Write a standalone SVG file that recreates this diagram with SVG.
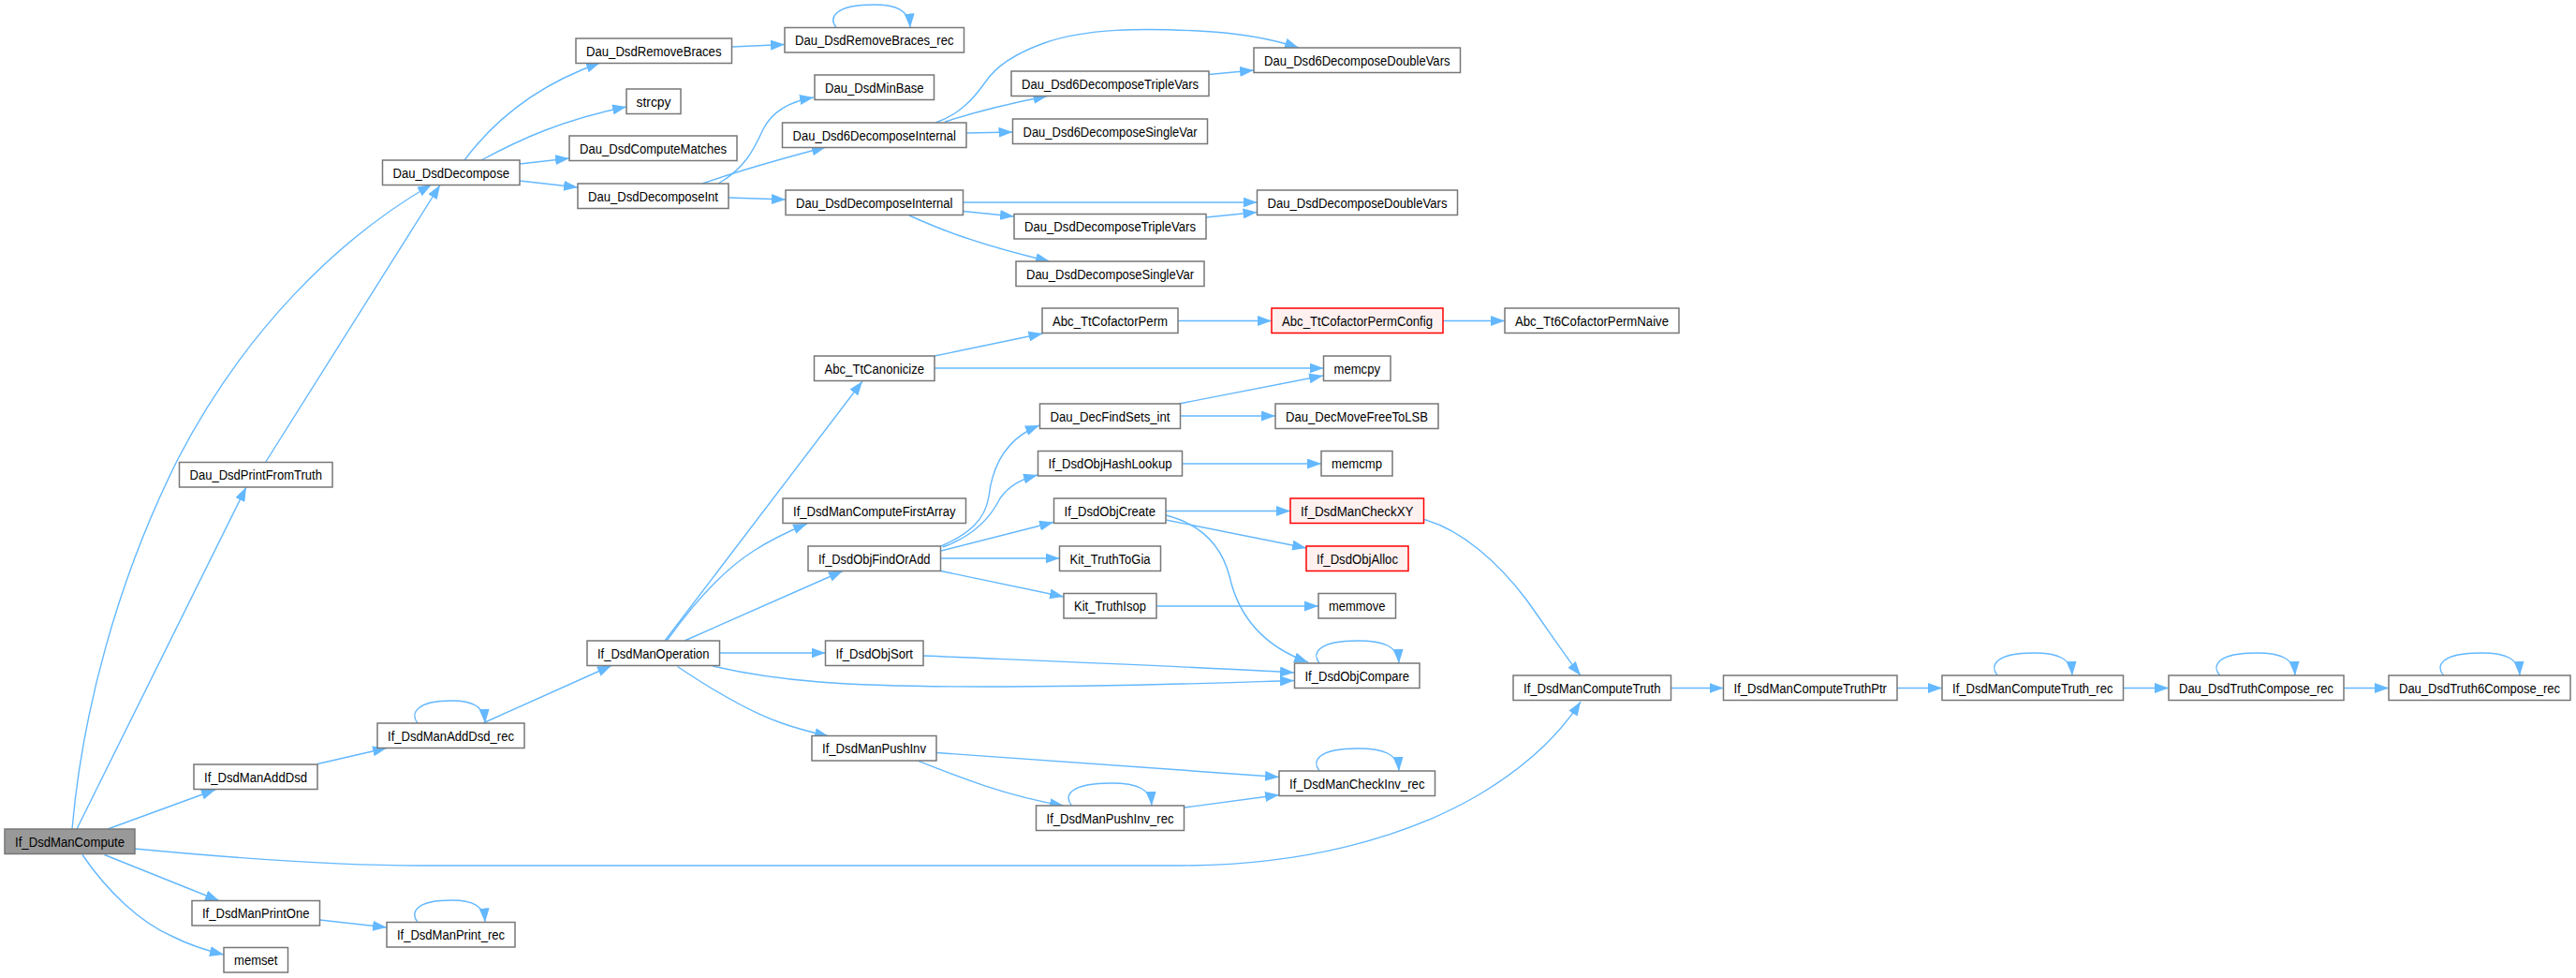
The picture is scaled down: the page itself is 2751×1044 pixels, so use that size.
<svg xmlns="http://www.w3.org/2000/svg" width="2751" height="1044" viewBox="0 0 2751 1044">
<style>
.node rect{fill:#ffffff;stroke:#777777;stroke-width:1.5}
.node.root rect{fill:#999999}
.node.red rect{fill:#fff0f0;stroke:#ff0000}
.node text{font-family:"Liberation Sans",Arial,sans-serif;font-size:14px;fill:#000000;text-anchor:middle}
.edges path{fill:none;stroke:#63b8ff;stroke-width:1.4;marker-end:url(#arr)}
</style>
<defs>
<marker id="arr" markerUnits="userSpaceOnUse" markerWidth="15" markerHeight="11" refX="15" refY="5.5" orient="auto">
<path d="M0,0 L15,5.5 L0,11 z" fill="#63b8ff"/>
</marker>
</defs>
<rect x="0" y="0" width="2751" height="1044" fill="#ffffff"/>
<g class="edges">
<path d="M77,885 C88,760 125,620 190,490 C260,355 360,255 461,197"/>
<path d="M82,885 L263,520"/>
<path d="M283.5,493.5 L470,197.5"/>
<path d="M496,171 C525,132 570,92 641,67"/>
<path d="M514,171 C555,149 600,128 669,114"/>
<path d="M555,175 L608,169"/>
<path d="M555,193 L617,200"/>
<path d="M781.5,50 L838,47.5"/>
<path d="M893,29.5 C885,19 891,5 933,5 C958,5 971,11 972,29.5"/>
<path d="M767,196 C795,180 805,160 815,138 C825,118 845,108 869,104"/>
<path d="M750,196 C790,182 840,168 882,157"/>
<path d="M778,211 L839,213"/>
<path d="M999,131 C1025,122 1040,105 1052,88 C1065,68 1090,55 1115,46 C1160,30 1220,30 1280,33 C1320,35 1360,42 1387,51"/>
<path d="M1009,130 C1040,120 1080,110 1118.5,102.5"/>
<path d="M1032,142 L1081.5,141"/>
<path d="M1291,79.5 L1339,75"/>
<path d="M1028.5,216 L1342.5,216"/>
<path d="M1028.5,225.5 L1083,231"/>
<path d="M971,230 C1000,243 1040,260 1121,279"/>
<path d="M1288,232 L1342.5,226.5"/>
<path d="M710,684 L921,407"/>
<path d="M712,684 C740,645 770,610 805,588 C825,575 845,566 862,559"/>
<path d="M731,684 L900,609.5"/>
<path d="M768.5,697 L881.5,697"/>
<path d="M761,711 C830,727 900,733 1050,733 C1200,733 1300,729 1382,726.5"/>
<path d="M723.5,711.5 C760,736 800,760 835,772 C852,778 868,782 885,786"/>
<path d="M986,700 C1150,707 1300,713 1382,718"/>
<path d="M1005,583 C1035,570 1052,555 1056,530 C1060,495 1075,468 1110,454"/>
<path d="M1007,584 C1040,572 1058,552 1068,532 C1078,518 1090,512 1108,507"/>
<path d="M1005,588 L1125,557.5"/>
<path d="M1005,596 L1131.5,596"/>
<path d="M1004.5,609.5 L1136,637"/>
<path d="M998,380 L1113.5,356"/>
<path d="M998,393 L1413.5,393"/>
<path d="M1258,342.5 L1358,342.5"/>
<path d="M1541,342.5 L1607,342.5"/>
<path d="M1259,431 L1413,401"/>
<path d="M1260.5,444 L1362,444"/>
<path d="M1262.5,495 L1411,495"/>
<path d="M1245,545.5 L1378,545.5"/>
<path d="M1245,555 L1395,585"/>
<path d="M1245,550 C1285,560 1305,585 1313,615 C1323,660 1350,690 1397,707"/>
<path d="M1409,708 C1401,698 1406,684 1450,684 C1478,684 1493,690 1494,708"/>
<path d="M1235,647 L1408,647"/>
<path d="M1520.6,554.5 C1560,565 1600,600 1630,640 C1655,675 1675,705 1688,721"/>
<path d="M144,906 C260,917 360,924 450,924 L1260,924 C1390,924 1500,895 1580,848 C1630,818 1665,785 1688,749"/>
<path d="M1784.5,734.5 L1840.5,734.5"/>
<path d="M2026,734.5 L2074,734.5"/>
<path d="M2133,721 C2125,711 2130,697 2172,697 C2198,697 2212,703 2213,721"/>
<path d="M2267.5,734.5 L2316,734.5"/>
<path d="M2370.5,721 C2362,711 2367,697 2410,697 C2436,697 2450,703 2451,721"/>
<path d="M2503,734.5 L2551,734.5"/>
<path d="M2609.5,721 C2601,711 2606,697 2650,697 C2676,697 2690,703 2691,721"/>
<path d="M115,885 L230,843"/>
<path d="M339,815.5 L413,798.5"/>
<path d="M446,772 C438,762 444,748 482,748 C505,748 517,754 518,772"/>
<path d="M515.6,772 L653,710.5"/>
<path d="M111.6,912.5 L234,961.5"/>
<path d="M341.5,982 L413,990"/>
<path d="M446,984.5 C438,974 444,961 482,961 C505,961 517,967 518,984.5"/>
<path d="M88,912.5 C115,952 150,985 185,1000 C205,1010 222,1015 239,1019"/>
<path d="M1000,803.5 L1366,829.5"/>
<path d="M981,812.5 C1020,828 1075,850 1136,860"/>
<path d="M1144.5,860 C1136,850 1141,836 1187,836 C1214,836 1229,842 1230,860"/>
<path d="M1265,862 L1366,848.5"/>
<path d="M1409,823 C1401,813 1406,799 1450,799 C1478,799 1493,805 1494,823"/>
</g>
<g id="n_If_DsdManCompute" class="node root"><rect x="5" y="885" width="139" height="26.5"/><text x="74.5" y="903.5" textLength="117" lengthAdjust="spacingAndGlyphs">If_DsdManCompute</text></g>
<g id="n_Dau_DsdDecompose" class="node"><rect x="408.5" y="171" width="146.5" height="26.5"/><text x="481.75" y="189.5" textLength="124.5" lengthAdjust="spacingAndGlyphs">Dau_DsdDecompose</text></g>
<g id="n_Dau_DsdPrintFromTruth" class="node"><rect x="191.5" y="493.5" width="163.5" height="26.5"/><text x="273.25" y="512" textLength="141.5" lengthAdjust="spacingAndGlyphs">Dau_DsdPrintFromTruth</text></g>
<g id="n_Dau_DsdRemoveBraces" class="node"><rect x="615" y="41" width="166.5" height="26.5"/><text x="698.25" y="59.5" textLength="144.5" lengthAdjust="spacingAndGlyphs">Dau_DsdRemoveBraces</text></g>
<g id="n_strcpy" class="node"><rect x="669" y="95" width="58" height="26.5"/><text x="698" y="113.5" textLength="37" lengthAdjust="spacingAndGlyphs">strcpy</text></g>
<g id="n_Dau_DsdComputeMatches" class="node"><rect x="608" y="145" width="179" height="26.5"/><text x="697.5" y="163.5" textLength="157" lengthAdjust="spacingAndGlyphs">Dau_DsdComputeMatches</text></g>
<g id="n_Dau_DsdDecomposeInt" class="node"><rect x="617" y="196" width="161" height="26.5"/><text x="697.5" y="214.5" textLength="139" lengthAdjust="spacingAndGlyphs">Dau_DsdDecomposeInt</text></g>
<g id="n_Dau_DsdRemoveBraces_rec" class="node"><rect x="838" y="29.5" width="191.5" height="26.5"/><text x="933.75" y="48" textLength="169.5" lengthAdjust="spacingAndGlyphs">Dau_DsdRemoveBraces_rec</text></g>
<g id="n_Dau_DsdMinBase" class="node"><rect x="870" y="80" width="127.5" height="26.5"/><text x="933.75" y="98.5" textLength="105.5" lengthAdjust="spacingAndGlyphs">Dau_DsdMinBase</text></g>
<g id="n_Dau_Dsd6DecomposeInternal" class="node"><rect x="835.5" y="131" width="196.5" height="26.5"/><text x="933.75" y="149.5" textLength="174.5" lengthAdjust="spacingAndGlyphs">Dau_Dsd6DecomposeInternal</text></g>
<g id="n_Dau_Dsd6DecomposeTripleVars" class="node"><rect x="1080" y="76" width="211" height="26.5"/><text x="1185.5" y="94.5" textLength="189" lengthAdjust="spacingAndGlyphs">Dau_Dsd6DecomposeTripleVars</text></g>
<g id="n_Dau_Dsd6DecomposeSingleVar" class="node"><rect x="1081.5" y="127" width="208" height="26.5"/><text x="1185.5" y="145.5" textLength="186" lengthAdjust="spacingAndGlyphs">Dau_Dsd6DecomposeSingleVar</text></g>
<g id="n_Dau_Dsd6DecomposeDoubleVars" class="node"><rect x="1339" y="51" width="220.5" height="26.5"/><text x="1449.25" y="69.5" textLength="198.5" lengthAdjust="spacingAndGlyphs">Dau_Dsd6DecomposeDoubleVars</text></g>
<g id="n_Dau_DsdDecomposeInternal" class="node"><rect x="839" y="203" width="189.5" height="26.5"/><text x="933.75" y="221.5" textLength="167.5" lengthAdjust="spacingAndGlyphs">Dau_DsdDecomposeInternal</text></g>
<g id="n_Dau_DsdDecomposeTripleVars" class="node"><rect x="1083" y="228.5" width="205" height="26.5"/><text x="1185.5" y="247" textLength="183" lengthAdjust="spacingAndGlyphs">Dau_DsdDecomposeTripleVars</text></g>
<g id="n_Dau_DsdDecomposeSingleVar" class="node"><rect x="1085" y="279" width="201" height="26.5"/><text x="1185.5" y="297.5" textLength="179" lengthAdjust="spacingAndGlyphs">Dau_DsdDecomposeSingleVar</text></g>
<g id="n_Dau_DsdDecomposeDoubleVars" class="node"><rect x="1342.5" y="203" width="214" height="26.5"/><text x="1449.5" y="221.5" textLength="192" lengthAdjust="spacingAndGlyphs">Dau_DsdDecomposeDoubleVars</text></g>
<g id="n_Abc_TtCofactorPerm" class="node"><rect x="1113" y="329" width="145" height="26.5"/><text x="1185.5" y="347.5" textLength="123" lengthAdjust="spacingAndGlyphs">Abc_TtCofactorPerm</text></g>
<g id="n_Abc_TtCofactorPermConfig" class="node red"><rect x="1358" y="329" width="183" height="26.5"/><text x="1449.5" y="347.5" textLength="161" lengthAdjust="spacingAndGlyphs">Abc_TtCofactorPermConfig</text></g>
<g id="n_Abc_Tt6CofactorPermNaive" class="node"><rect x="1607" y="329" width="186" height="26.5"/><text x="1700" y="347.5" textLength="164" lengthAdjust="spacingAndGlyphs">Abc_Tt6CofactorPermNaive</text></g>
<g id="n_Abc_TtCanonicize" class="node"><rect x="869.5" y="380" width="128.5" height="26.5"/><text x="933.75" y="398.5" textLength="106.5" lengthAdjust="spacingAndGlyphs">Abc_TtCanonicize</text></g>
<g id="n_memcpy" class="node"><rect x="1413.5" y="380" width="71.5" height="26.5"/><text x="1449.25" y="398.5" textLength="49.5" lengthAdjust="spacingAndGlyphs">memcpy</text></g>
<g id="n_Dau_DecFindSets_int" class="node"><rect x="1110.5" y="431" width="150" height="26.5"/><text x="1185.5" y="449.5" textLength="128" lengthAdjust="spacingAndGlyphs">Dau_DecFindSets_int</text></g>
<g id="n_Dau_DecMoveFreeToLSB" class="node"><rect x="1362" y="431" width="174" height="26.5"/><text x="1449" y="449.5" textLength="152" lengthAdjust="spacingAndGlyphs">Dau_DecMoveFreeToLSB</text></g>
<g id="n_If_DsdObjHashLookup" class="node"><rect x="1108.5" y="481.5" width="154" height="26.5"/><text x="1185.5" y="500" textLength="132" lengthAdjust="spacingAndGlyphs">If_DsdObjHashLookup</text></g>
<g id="n_memcmp" class="node"><rect x="1411" y="481.5" width="76" height="26.5"/><text x="1449" y="500" textLength="54" lengthAdjust="spacingAndGlyphs">memcmp</text></g>
<g id="n_If_DsdManComputeFirstArray" class="node"><rect x="836" y="532" width="195.5" height="26.5"/><text x="933.75" y="550.5" textLength="173.5" lengthAdjust="spacingAndGlyphs">If_DsdManComputeFirstArray</text></g>
<g id="n_If_DsdObjFindOrAdd" class="node"><rect x="863" y="583" width="141.5" height="26.5"/><text x="933.75" y="601.5" textLength="119.5" lengthAdjust="spacingAndGlyphs">If_DsdObjFindOrAdd</text></g>
<g id="n_If_DsdObjCreate" class="node"><rect x="1125.5" y="532" width="119.5" height="26.5"/><text x="1185.25" y="550.5" textLength="97.5" lengthAdjust="spacingAndGlyphs">If_DsdObjCreate</text></g>
<g id="n_If_DsdManCheckXY" class="node red"><rect x="1378" y="532" width="142.5" height="26.5"/><text x="1449.25" y="550.5" textLength="120.5" lengthAdjust="spacingAndGlyphs">If_DsdManCheckXY</text></g>
<g id="n_If_DsdObjAlloc" class="node red"><rect x="1395" y="583" width="109" height="26.5"/><text x="1449.5" y="601.5" textLength="87" lengthAdjust="spacingAndGlyphs">If_DsdObjAlloc</text></g>
<g id="n_Kit_TruthToGia" class="node"><rect x="1131.5" y="583" width="108" height="26.5"/><text x="1185.5" y="601.5" textLength="86" lengthAdjust="spacingAndGlyphs">Kit_TruthToGia</text></g>
<g id="n_Kit_TruthIsop" class="node"><rect x="1136" y="633.5" width="99" height="26.5"/><text x="1185.5" y="652" textLength="77" lengthAdjust="spacingAndGlyphs">Kit_TruthIsop</text></g>
<g id="n_memmove" class="node"><rect x="1408" y="633.5" width="82.5" height="26.5"/><text x="1449.25" y="652" textLength="60.5" lengthAdjust="spacingAndGlyphs">memmove</text></g>
<g id="n_If_DsdManOperation" class="node"><rect x="627" y="684" width="141.5" height="26.5"/><text x="697.75" y="702.5" textLength="119.5" lengthAdjust="spacingAndGlyphs">If_DsdManOperation</text></g>
<g id="n_If_DsdObjSort" class="node"><rect x="881.5" y="684" width="104.5" height="26.5"/><text x="933.75" y="702.5" textLength="82.5" lengthAdjust="spacingAndGlyphs">If_DsdObjSort</text></g>
<g id="n_If_DsdObjCompare" class="node"><rect x="1382.5" y="708" width="133.5" height="26.5"/><text x="1449.25" y="726.5" textLength="111.5" lengthAdjust="spacingAndGlyphs">If_DsdObjCompare</text></g>
<g id="n_If_DsdManAddDsd_rec" class="node"><rect x="403" y="772" width="157" height="26.5"/><text x="481.5" y="790.5" textLength="135" lengthAdjust="spacingAndGlyphs">If_DsdManAddDsd_rec</text></g>
<g id="n_If_DsdManAddDsd" class="node"><rect x="207" y="816" width="132" height="26.5"/><text x="273" y="834.5" textLength="110" lengthAdjust="spacingAndGlyphs">If_DsdManAddDsd</text></g>
<g id="n_If_DsdManPushInv" class="node"><rect x="867" y="785.5" width="133" height="26.5"/><text x="933.5" y="804" textLength="111" lengthAdjust="spacingAndGlyphs">If_DsdManPushInv</text></g>
<g id="n_If_DsdManPushInv_rec" class="node"><rect x="1106.5" y="860" width="158" height="26.5"/><text x="1185.5" y="878.5" textLength="136" lengthAdjust="spacingAndGlyphs">If_DsdManPushInv_rec</text></g>
<g id="n_If_DsdManCheckInv_rec" class="node"><rect x="1366" y="823" width="166.5" height="26.5"/><text x="1449.25" y="841.5" textLength="144.5" lengthAdjust="spacingAndGlyphs">If_DsdManCheckInv_rec</text></g>
<g id="n_If_DsdManComputeTruth" class="node"><rect x="1616" y="721" width="168.5" height="26.5"/><text x="1700.25" y="739.5" textLength="146.5" lengthAdjust="spacingAndGlyphs">If_DsdManComputeTruth</text></g>
<g id="n_If_DsdManComputeTruthPtr" class="node"><rect x="1840.5" y="721" width="185.5" height="26.5"/><text x="1933.25" y="739.5" textLength="163.5" lengthAdjust="spacingAndGlyphs">If_DsdManComputeTruthPtr</text></g>
<g id="n_If_DsdManComputeTruth_rec" class="node"><rect x="2074" y="721" width="193.5" height="26.5"/><text x="2170.75" y="739.5" textLength="171.5" lengthAdjust="spacingAndGlyphs">If_DsdManComputeTruth_rec</text></g>
<g id="n_Dau_DsdTruthCompose_rec" class="node"><rect x="2316" y="721" width="187" height="26.5"/><text x="2409.5" y="739.5" textLength="165" lengthAdjust="spacingAndGlyphs">Dau_DsdTruthCompose_rec</text></g>
<g id="n_Dau_DsdTruth6Compose_rec" class="node"><rect x="2551" y="721" width="194" height="26.5"/><text x="2648" y="739.5" textLength="172" lengthAdjust="spacingAndGlyphs">Dau_DsdTruth6Compose_rec</text></g>
<g id="n_If_DsdManPrintOne" class="node"><rect x="205" y="961.5" width="136.5" height="26.5"/><text x="273.25" y="980" textLength="114.5" lengthAdjust="spacingAndGlyphs">If_DsdManPrintOne</text></g>
<g id="n_If_DsdManPrint_rec" class="node"><rect x="413" y="984.5" width="137" height="26.5"/><text x="481.5" y="1003" textLength="115" lengthAdjust="spacingAndGlyphs">If_DsdManPrint_rec</text></g>
<g id="n_memset" class="node"><rect x="239" y="1011.5" width="68.5" height="26.5"/><text x="273.25" y="1030" textLength="46.5" lengthAdjust="spacingAndGlyphs">memset</text></g>
</svg>
